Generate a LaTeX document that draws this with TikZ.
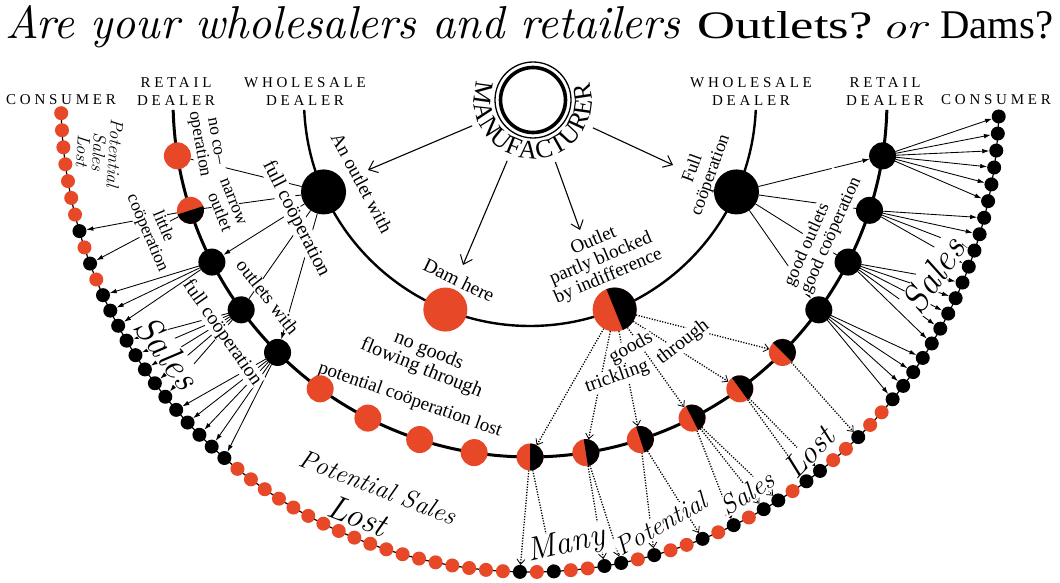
\documentclass[tikz,border=0pt]{standalone}
\usepackage{fontspec}
\setmainfont{Liberation Serif}
\usetikzlibrary{calc,arrows.meta,decorations.text}
\definecolor{cr}{RGB}{231,72,40}
\colorlet{cb}{black}
\newcommand\fs[2]{\fontsize{#1}{#2}\selectfont}
\newcommand\lmi{\fontfamily{lmr}\fontshape{it}\selectfont}
\pgfdeclarelayer{bg}
\pgfdeclarelayer{mid}
\pgfsetlayers{bg,mid,main}
\tikzset{
  dot/.style={circle,inner sep=0pt,outer sep=0pt,minimum size=14pt},
  rnode/.style={circle,inner sep=0pt,outer sep=0pt,minimum size=27pt},
  wnode/.style={circle,inner sep=0pt,outer sep=0pt,minimum size=45pt},
  sl/.style={line width=0.85pt},
  sla/.style={line width=0.85pt,-{Latex[length=7pt,width=4.6pt]}},
  dta/.style={line width=1.3pt,dash pattern=on 1.2pt off 1.5pt,-{Straight Barb[length=5pt,width=8pt,line width=0.8pt]}},
  marr/.style={line width=1.1pt,shorten <=66pt,-{Straight Barb[length=8pt,width=13pt,line width=1pt]}},
  lab/.style={inner sep=0.6pt,align=center},
  cov/.style={fill=white},
  hdr/.style={inner sep=0pt,align=center,font=\fs{15}{18}\addfontfeatures{LetterSpace=25}},
}
\begin{document}
\begin{tikzpicture}[x=1pt,y=-1pt]
\useasboundingbox (0,0) rectangle (1060,583);
\begin{pgfonlayer}{bg}\fill[white] (0,0) rectangle (1060,583);\end{pgfonlayer}
\coordinate (O) at (530,100);

% arcs
\draw[line width=2.4pt] ($(O)+(177.5:226)$) arc[start angle=177.5,end angle=2.5,radius=226];
\draw[line width=3pt] ($(O)+(178.4:357)$) arc[start angle=178.4,end angle=1.6,radius=357];
\draw[line width=1.2pt] ($(O)+(178.4:469 and 472)$) arc[start angle=178.4,end angle=2,x radius=469,y radius=472];

% manufacturer
\node[circle,draw,line width=1.3pt,minimum size=76pt,inner sep=0pt] (m) at (533,100) {};
\draw[line width=3.6pt] (m.center) circle[radius=32.5];
\path[decorate,decoration={text along path,text={|\fs{26}{26}|MANUFACTURER},text align={fit to path}}] ($(m.center)+(199:59)$) arc[start angle=199,end angle=-17,radius=59];

% consumer dots
\foreach \c [count=\k] in {cr,cr,cr,cr,cr,cr,cr,cb,cr,cb,cr,
  cb,cb,cb,cb,cb,cb,cb,cb,cb,cb,cb,cb,cb,
  cr,cr,cr,cr,cr,cr,cr,cr,cr,cr,cr,cr,cr,cr,cr,cr,cr,cr,
  cb,cr,cb,cr,cr,cb,cb,cr,cb,cr,cr,cb,cr,cb,cr,cb,cb,cr,cb,cb,cr,cr,cb,cr,cr,
  cb,cb,cb,cb,cb,cb,cb,cb,cb,cb,cb,cb,cb,cb,cb,cb,cb,cb,cb}
  \node[dot,fill=\c] (c\k) at ($(O)+({178.4-(\k-1)*2.0753}:469 and 472)$) {};

% retail nodes
\foreach \c [count=\k] in {cr,cr,cb,cb,cb,cr,cr,cr,cr,cr,cr,cr,cr,cr,cr,cb,cb,cb,cb}
  \node[rnode,fill=\c] (r\k) at ($(O)+({171-9*(\k-1)}:357)$) {};
\foreach \k in {2,10,11,12,13,14,15}{
  \pgfmathsetmacro\a{171-9*(\k-1)}
  \fill[cb] (r\k.center) ++({\a-180}:13.5) arc[start angle={\a-180},end angle=\a,radius=13.5] -- cycle;}

% wholesale nodes
\node[wnode,fill=cb] (w1) at ($(O)+(156:226)$) {};
\node[wnode,fill=cr,minimum size=44pt] (w2) at ($(O)+(112:226)$) {};
\node[wnode,fill=cr,minimum size=44pt] (w3) at ($(O)+(68:226)$) {};
\fill[cb] (w3.center) ++(-112:22) arc[start angle=-112,end angle=68,radius=22] -- cycle;
\node[wnode,fill=cb] (w4) at ($(O)+(24:226)$) {};

\coordinate (e1) at (368,170);
\coordinate (e2) at (463,265);
\coordinate (e3) at (580,230);
\coordinate (e4) at (673,165);

% connectors
\begin{pgfonlayer}{bg}
\foreach \i in {1,2,3,4} \draw[marr] (m.center) -- (e\i);
\foreach \t in {r1,r2,r4} \draw[sl] (w1) -- (\t);
\draw[sla] (w1) -- (r3);
\draw[sla] (w1) -- (r5);
\foreach \t in {8,10} \draw[sla] (r2) -- (c\t);
\foreach \t in {12,13,14} \draw[sla] (r3) -- (c\t);
\foreach \t in {15,...,19} \draw[sla] (r4) -- (c\t);
\foreach \t in {20,...,24} \draw[sla] (r5) -- (c\t);
\draw[sla] (w4) -- (r19);
\draw[sl] (w4) -- (r18);
\draw[sl] (w4) -- (r17);
\draw[sla] (w4) -- (r16);
\foreach \t in {81,...,86} \draw[sla] (r19) -- (c\t);
\foreach \t in {77,...,80} \draw[sla] (r18) -- (c\t);
\foreach \t in {72,...,76} \draw[sla] (r17) -- (c\t);
\foreach \t in {68,...,71} \draw[sla] (r16) -- (c\t);
\foreach \t in {10,...,15} \draw[dta] (w3) -- (r\t);
\foreach \s/\t in {10/43,10/45,11/48,11/49,12/51,12/54,13/56,13/58,13/59,14/61,14/62,15/65}
  \draw[dta] (r\s) -- (c\t);
\end{pgfonlayer}

% labels
\begin{pgfonlayer}{mid}
\node[lab,rotate=-62,font=\fs{19}{20}] (tOutletWith) at (362,183) {An outlet with};
\node[lab,rotate=-26,font=\fs{19.5}{20}] (tDam) at (459,280) {Dam here};
\node[lab,rotate=23,font=\fs{19}{19}] (tBlocked) at (601,259) {Outlet\\partly blocked\\by indifference};
\node[lab,rotate=70,font=\fs{18}{19}] (tFullR) at (702,172) {Full\\coöperation};
\node[lab,cov,rotate=66,font=\fs{18}{18},align=left] (tGood) at (823,232) {good outlets\\good coöperation};
\node[lab,cov,rotate=-63,font=\fs{20}{20}] (tFullW) at (296,219) {full coöperation};
\node[lab,cov,rotate=-80,font=\fs{17.5}{17}] (tNoCo) at (206,143) {no co--\\operation};
\node[lab,cov,rotate=-68,font=\fs{17.5}{17},align=right] (tNarrow) at (225,205) {narrow\\outlet};
\node[lab,cov,rotate=-67,font=\fs{17.5}{17}] (tLittle) at (155,230) {little\\coöperation};
\node[lab,cov,rotate=-52,font=\fs{19}{19}] (tOutlets) at (268,297) {outlets with};
\node[lab,cov,rotate=-55,font=\fs{19.5}{19}] (tFull2) at (222,333) {full coöperation};
\node[lab,cov,rotate=-53,font=\fs{38}{38}\lmi] (tSalesL) at (167,352) {Sales};
\node[lab,cov,rotate=56,font=\fs{38}{38}\lmi] (tSalesR) at (933,275) {Sales};
\node[lab,rotate=-94,font=\fs{18}{16}\lmi] (tPSL) at (99,152) {Potential\\Sales\\Lost};
\node[lab,rotate=-22,font=\fs{20}{19}] (tNoGoods) at (425,360) {no goods\\flowing through};
\node[lab,rotate=-19.5,font=\fs{19}{19}] (tCoopLost) at (410,400) {potential coöperation lost};
\node[lab,rotate=-21,font=\fs{26}{26}\lmi] (tPotSales) at (378,487) {Potential Sales};
\node[lab,rotate=-21,font=\fs{34}{34}\lmi] (tLost1) at (358,516) {Lost};
\node[lab,cov,rotate=29,font=\fs{19.5}{19}] (tGoods) at (631,348) {goods};
\node[lab,cov,rotate=19,font=\fs{19.5}{19}] (tTrickling) at (617,377) {trickling};
\node[lab,cov,rotate=38,font=\fs{19.5}{19}] (tThrough) at (683,342) {through};
\node[lab,cov,rotate=13,font=\fs{33}{33}\lmi] (tMany) at (566,545) {Many};
\node[lab,cov,rotate=30,font=\fs{26}{26}\lmi] (tPotential) at (661,524) {Potential};
\node[lab,cov,rotate=33,font=\fs{27}{27}\lmi] (tSales3) at (747,493) {Sales};
\node[lab,cov,rotate=46,font=\fs{32}{32}\lmi] (tLost2) at (809,452) {Lost};
\end{pgfonlayer}

% headers
\node[hdr,anchor=north] (hConsL) at (61,94.5) {CONSUMER};
\node[hdr,anchor=north] (hRetL) at (176,77) {RETAIL\\DEALER};
\node[hdr,anchor=north] (hWhoL) at (305,77) {WHOLESALE\\DEALER};
\node[hdr,anchor=north] (hWhoR) at (751,77) {WHOLESALE\\DEALER};
\node[hdr,anchor=north] (hRetR) at (885,77) {RETAIL\\DEALER};
\node[hdr,anchor=north] (hConsR) at (996,94.5) {CONSUMER};

% title
\node[anchor=base west,inner sep=0pt] (title) at (5,39) {%
  \resizebox{675pt}{33pt}{\lmi Are your wholesalers and retailers}\hspace{17pt}%
  \resizebox{175pt}{27pt}{Outlets?}\hspace{10pt}%
  \resizebox{44pt}{16pt}{\lmi or}\hspace{14pt}%
  \resizebox{113pt}{27pt}{Dams?}};
\end{tikzpicture}
\end{document}
